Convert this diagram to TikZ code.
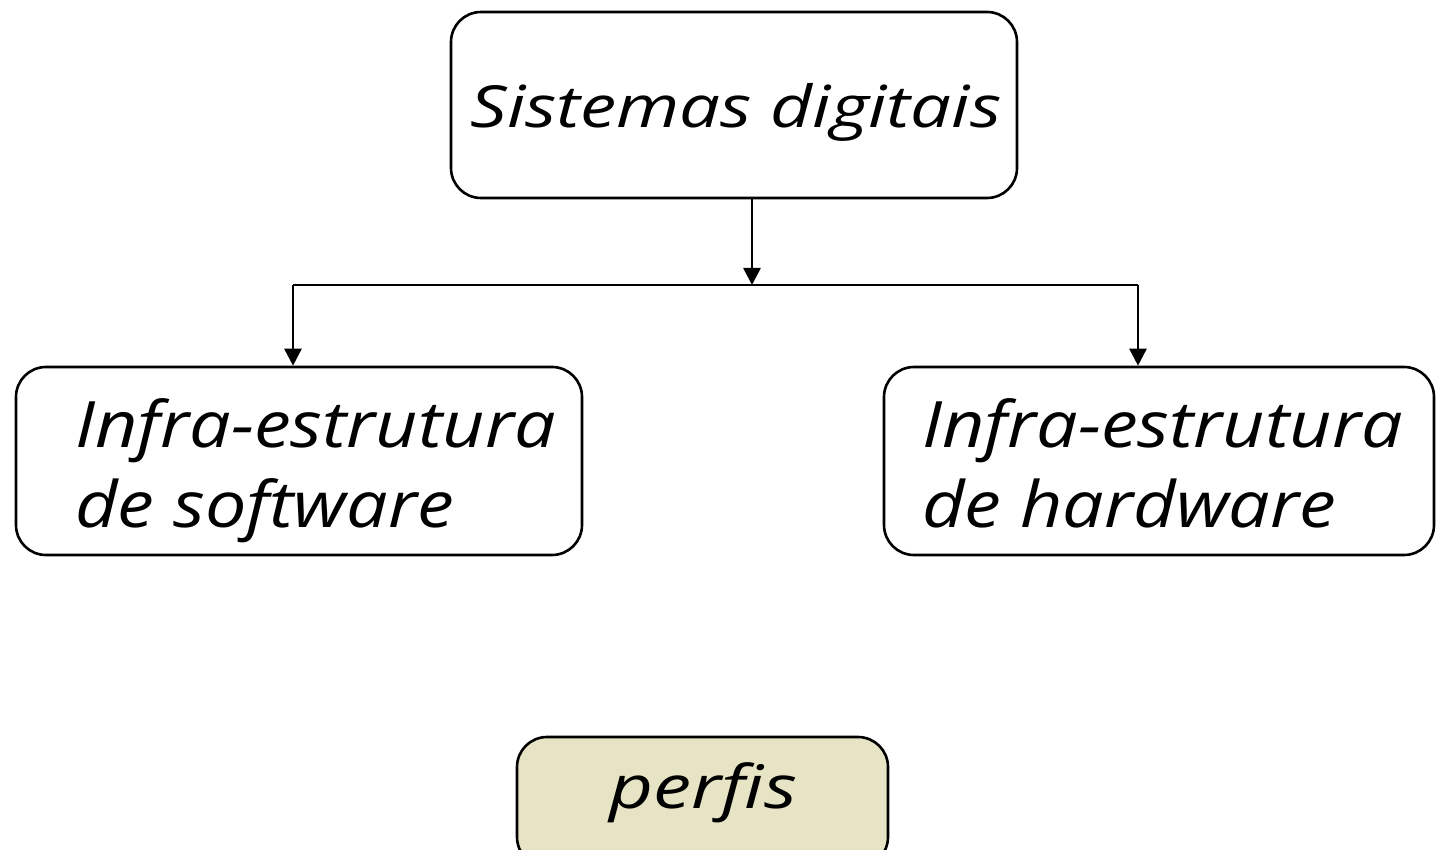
\documentclass[tikz,border=0pt]{standalone}
\usepackage{fontspec}
\setmainfont{Open Sans}
\newfontfamily\fTitle[FakeStretch=1.25,Ligatures=CommonOff]{Open Sans}
\newfontfamily\fSub[FakeStretch=1.15,Ligatures=CommonOff]{Open Sans}
\newfontfamily\fPf[FakeStretch=1.27,Ligatures=CommonOff]{Open Sans}
\usetikzlibrary{arrows.meta}
\definecolor{perfisfill}{HTML}{E6E4C4}
\begin{document}
\begin{tikzpicture}[x=1pt,y=-1pt,
  box/.style={draw, line width=2.6pt, rounded corners=30pt, inner sep=0pt},
  lbl/.style={inner sep=0pt, align=left},
  conn/.style={line width=2.6pt},
  arr/.style={conn, -{Triangle[length=17pt,width=17pt]}}]
\useasboundingbox (0,0) rectangle (1436,850);
% boxes
\node[box, minimum width=566pt, minimum height=186pt] (top) at (734,105) {};
\node[box, minimum width=566pt, minimum height=188pt] (sw) at (299,461) {};
\node[box, minimum width=550pt, minimum height=188pt] (hw) at (1159,461) {};
\node[box, fill=perfisfill, minimum width=371pt, minimum height=130pt] (pf) at (702.5,802) {};
% labels
\node[lbl, anchor=base, font=\fTitle\fontsize{58}{80}\selectfont\itshape] (tsd) at (736,128) {Sistemas digitais};
\node[lbl, anchor=north west, font=\fSub\fontsize{64}{80}\selectfont\itshape] (tsw) at (75,398) {Infra-estrutura\\de software};
\node[lbl, anchor=north west, font=\fSub\fontsize{64}{80}\selectfont\itshape] (thw) at (922,398) {Infra-estrutura\\de hardware};
\node[lbl, anchor=base, font=\fPf\fontsize{60}{80}\selectfont\itshape] (tpf) at (703,808) {perfis};
% connectors
\coordinate (j) at (752,285);
\coordinate (hl) at (293,285);
\coordinate (hr) at (1138,285);
\draw[arr] (top.south -| j) -- (j);
\draw[conn] (hl) -- (hr);
\draw[arr] (hl) -- (hl |- sw.north);
\draw[arr] (hr) -- (hr |- hw.north);
\end{tikzpicture}
\end{document}
